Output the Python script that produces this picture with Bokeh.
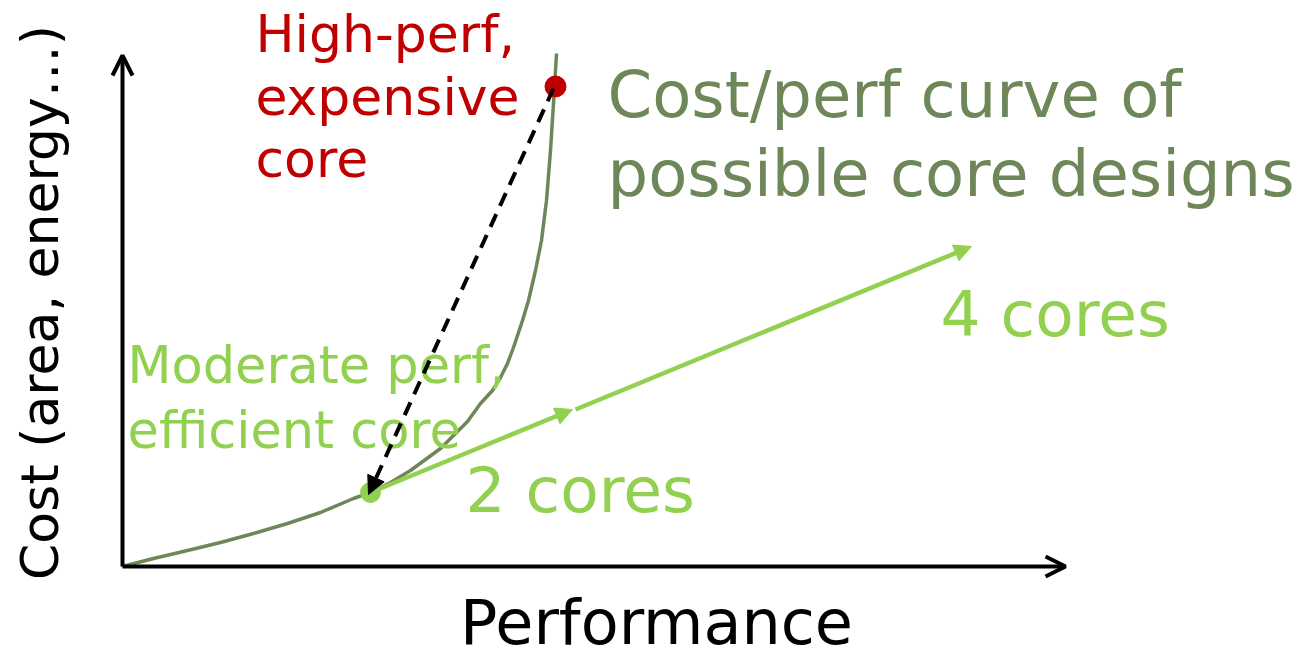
import math
from bokeh.plotting import figure
from bokeh.models import Arrow, OpenHead, NormalHead, ColumnDataSource, Range1d
from bokeh.core.properties import value
from bokeh.embed import file_html
from bokeh.resources import INLINE

# ---- data (performance / cost, arbitrary units) ----
curve_perf = [0.00, 0.31, 0.65, 0.98, 1.31, 1.65, 1.98, 2.31, 2.48, 2.68, 2.88, 3.18, 3.45,
              3.58, 3.70, 3.78, 3.85, 3.91, 4.00, 4.06, 4.13, 4.19, 4.24, 4.28, 4.32, 4.34]
curve_cost = [0.00, 0.08, 0.16, 0.24, 0.33, 0.43, 0.54, 0.68, 0.74, 0.84, 0.96, 1.18, 1.45,
              1.63, 1.76, 1.89, 2.03, 2.19, 2.46, 2.66, 2.96, 3.26, 3.66, 4.16, 4.79, 5.13]

axis_end_perf = 9.43
axis_end_cost = 5.11

high_core = (4.33, 4.80)
moderate_core = (2.48, 0.74)
two_cores = (4.50, 1.57)
four_cores_start = (4.53, 1.57)
four_cores = (8.49, 3.20)

red_lines = ["High-perf,", "expensive", "core"]
olive_lines = ["Cost/perf curve of", "possible core designs"]
green_lines = ["Moderate perf,", "efficient core"]
label_2 = "2 cores"
label_4 = "4 cores"
x_label = "Performance"
y_label = "Cost (area, energy…)"

FONT = value("DejaVu Sans")
RED = "#C00000"
OLIVE = "#6E8759"
GREEN = "#92D050"


def lift(ys, px):
    # compensate the renderer's baseline offset (about 0.36 em)
    return [y + 0.36 * px / 100.0 for y in ys]


p = figure(width=1299, height=658, x_range=Range1d(-1.22, 11.77), y_range=Range1d(-0.92, 5.66),
           output_backend="svg", toolbar_location=None, min_border=0,
           x_axis_location=None, y_axis_location=None)
p.grid.visible = False
p.outline_line_color = None

# curve of possible designs
p.line(curve_perf, curve_cost, line_color=OLIVE, line_width=3.5, line_join="round")

# axes with open arrow heads
p.add_layout(Arrow(end=OpenHead(size=20, line_width=4, line_color="black"),
                   x_start=0, y_start=0, x_end=axis_end_perf, y_end=0,
                   line_width=4, line_color="black"))
p.add_layout(Arrow(end=OpenHead(size=20, line_width=4, line_color="black"),
                   x_start=0, y_start=0, x_end=0, y_end=axis_end_cost,
                   line_width=4, line_color="black"))

# green multi-core arrows
p.add_layout(Arrow(end=NormalHead(size=17, fill_color=GREEN, line_color=GREEN, line_width=1),
                   x_start=moderate_core[0], y_start=moderate_core[1],
                   x_end=two_cores[0], y_end=two_cores[1],
                   line_width=4.5, line_color=GREEN))
p.add_layout(Arrow(end=NormalHead(size=17, fill_color=GREEN, line_color=GREEN, line_width=1),
                   x_start=four_cores_start[0], y_start=four_cores_start[1],
                   x_end=four_cores[0], y_end=four_cores[1],
                   line_width=4.5, line_color=GREEN))

# points
p.scatter([moderate_core[0]], [moderate_core[1]], size=20, fill_color=GREEN, line_color=GREEN)
p.scatter([high_core[0]], [high_core[1]], size=21, fill_color=RED, line_color=RED)

# dashed arrow from high-perf to moderate core
p.add_layout(Arrow(end=NormalHead(size=18, fill_color="black", line_color="black", line_width=1),
                   x_start=high_core[0] - 0.02, y_start=high_core[1] - 0.02,
                   x_end=moderate_core[0] - 0.02, y_end=moderate_core[1] - 0.02,
                   line_width=4, line_color="black", line_dash="14 9"))

# texts
red_src = ColumnDataSource(dict(x=[1.33] * 3, y=lift([5.14, 4.51, 3.89], 52), t=red_lines))
p.text("x", "y", text="t", source=red_src, text_font=FONT, text_font_size="52px",
       text_color=RED, text_baseline="alphabetic", text_align="left")

olive_src = ColumnDataSource(dict(x=[4.85] * 2, y=lift([4.48, 3.69], 64), t=olive_lines))
p.text("x", "y", text="t", source=olive_src, text_font=FONT, text_font_size="64px",
       text_color=OLIVE, text_baseline="alphabetic", text_align="left")

green_src = ColumnDataSource(dict(x=[0.05] * 2, y=lift([1.83, 1.18], 51), t=green_lines))
p.text("x", "y", text="t", source=green_src, text_font=FONT, text_font_size="51px",
       text_color=GREEN, text_baseline="alphabetic", text_align="left")

cores_src = ColumnDataSource(dict(x=[3.43, 8.18], y=lift([0.53, 2.29], 63), t=[label_2, label_4]))
p.text("x", "y", text="t", source=cores_src, text_font=FONT, text_font_size="63px",
       text_color=GREEN, text_baseline="alphabetic", text_align="left")

p.text([5.34], lift([-0.78], 62), text=[x_label], text_font=FONT, text_font_size="62px",
       text_color="black", text_baseline="alphabetic", text_align="center")
p.text([-0.64 - 0.36 * 52 / 100.0], [2.64], text=[y_label], angle=math.pi / 2, text_font=FONT,
       text_font_size="52px", text_color="black", text_baseline="alphabetic", text_align="center")

open("out.html", "w").write(file_html(p, INLINE))
